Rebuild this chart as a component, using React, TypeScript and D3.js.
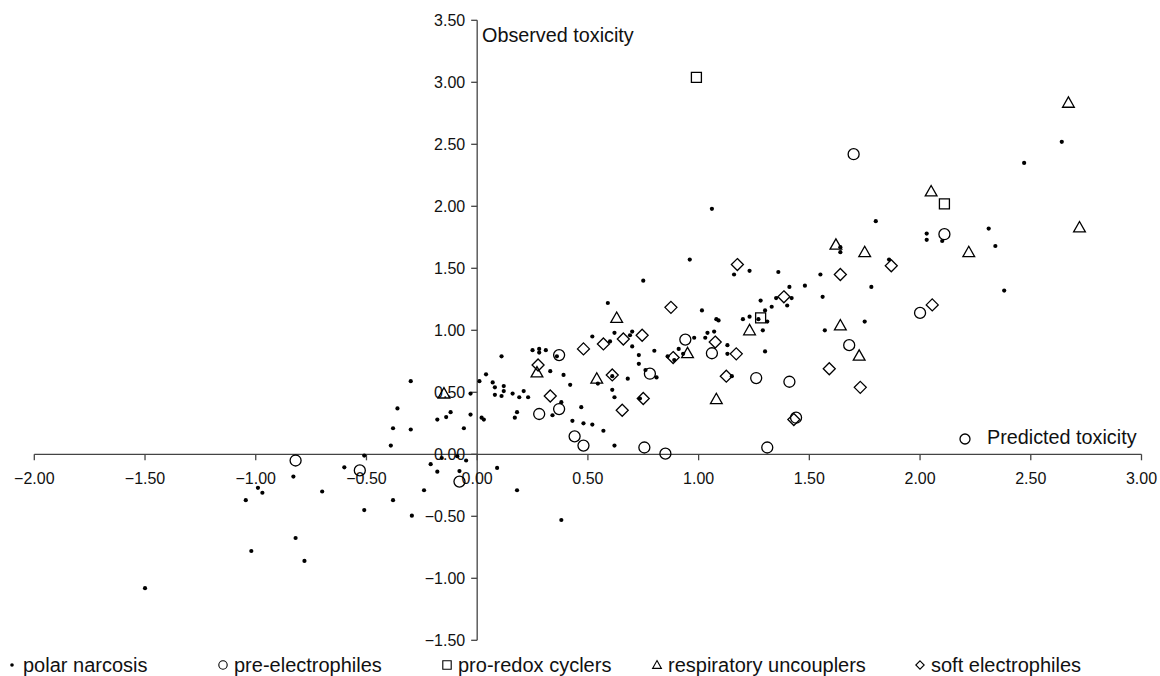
import React from 'react';
import * as d3 from 'd3';

// observed vs predicted toxicity, one list per mechanism class
const polarNarcosis: [number, number][] = [
  [-1.5, -1.08], [-0.39, 0.07], [-0.51, -0.01], [-0.6, -0.105], [-0.83, -0.18],
  [-0.99, -0.27], [-0.97, -0.31], [-1.045, -0.37], [-0.7, -0.3], [-0.38, -0.37],
  [-0.51, -0.45], [-0.82, -0.675], [-1.02, -0.78], [-0.78, -0.86], [-0.3, 0.59],
  [-0.36, 0.37], [-0.38, 0.21], [-0.3, 0.2], [-0.295, -0.495], [-0.24, -0.29],
  [-0.21, -0.08], [-0.18, -0.14], [-0.16, -0.03], [-0.09, -0.015], [-0.05, -0.05],
  [-0.08, -0.135], [-0.18, 0.28], [-0.14, 0.3], [-0.12, 0.34], [-0.06, 0.21],
  [-0.03, 0.32], [-0.03, 0.49], [0.01, 0.59], [0.04, 0.645], [0.11, 0.79],
  [0.07, 0.58], [0.08, 0.54], [0.08, 0.48], [0.12, 0.55], [0.12, 0.51],
  [0.11, 0.47], [0.16, 0.49], [0.21, 0.51], [0.19, 0.46], [0.23, 0.46],
  [0.02, 0.295], [0.03, 0.28], [0.18, 0.34], [0.17, 0.295], [0.09, -0.11],
  [0.18, -0.29], [0.38, -0.53], [0.25, 0.84], [0.28, 0.85], [0.28, 0.82],
  [0.31, 0.84], [0.36, 0.79], [0.33, 0.67], [0.39, 0.64], [0.42, 0.56],
  [0.38, 0.42], [0.34, 0.315], [0.47, 0.38], [0.43, 0.27], [0.48, 0.25],
  [0.52, 0.24], [0.57, 0.19], [0.62, 0.07], [0.52, 0.95], [0.59, 1.22],
  [0.62, 0.98], [0.6, 0.91], [0.7, 0.99], [0.69, 0.96], [0.7, 0.87],
  [0.68, 0.61], [0.61, 0.52], [0.62, 0.46], [0.61, 0.63], [0.545, 0.57],
  [0.73, 0.8], [0.73, 0.73], [0.735, 0.45], [0.96, 1.57], [0.75, 1.4],
  [0.8, 0.835], [0.91, 0.85], [0.86, 0.79], [0.89, 0.76], [0.93, 0.81],
  [0.98, 0.94], [1.03, 0.94], [1.04, 0.98], [1.07, 0.99], [1.015, 1.16],
  [1.08, 1.09], [1.09, 1.08], [1.13, 0.88], [1.13, 0.81], [1.15, 0.63],
  [0.76, 0.68], [0.81, 0.62], [1.16, 1.45], [1.23, 1.48], [1.36, 1.47],
  [1.2, 1.09], [1.23, 1.11], [1.27, 1.09], [1.3, 1.16], [1.31, 1.07],
  [1.28, 1.24], [1.29, 1.0], [1.3, 0.83], [1.33, 1.19], [1.35, 1.26],
  [1.41, 1.35], [1.42, 1.26], [1.4, 1.2], [1.06, 1.98], [1.8, 1.88],
  [1.55, 1.45], [1.48, 1.36], [1.78, 1.35], [1.56, 1.27], [1.64, 1.67],
  [1.64, 1.63], [1.86, 1.57], [1.75, 1.07], [1.57, 1.0], [2.03, 1.78],
  [2.03, 1.73], [2.1, 1.72], [2.31, 1.82], [2.34, 1.68], [2.38, 1.32],
  [2.47, 2.35], [2.64, 2.52],
];

const preElectrophiles: [number, number][] = [
  [-0.82, -0.05], [-0.53, -0.13], [-0.08, -0.22], [0.37, 0.8], [0.28, 0.325],
  [0.37, 0.365], [0.44, 0.145], [0.48, 0.07], [0.755, 0.055], [0.85, 0.005],
  [0.78, 0.65], [0.94, 0.925], [1.06, 0.815], [1.26, 0.615], [1.41, 0.585],
  [1.31, 0.055], [1.44, 0.295], [1.68, 0.88], [2.0, 1.14], [1.7, 2.42],
  [2.11, 1.775],
];

const proRedoxCyclers: [number, number][] = [
  [0.99, 3.04], [2.11, 2.02], [1.28, 1.1],
];

const respiratoryUncouplers: [number, number][] = [
  [-0.15, 0.49], [0.27, 0.66], [0.63, 1.1], [0.54, 0.61], [0.95, 0.815],
  [1.23, 1.0], [1.08, 0.445], [1.62, 1.69], [1.75, 1.63], [1.64, 1.04],
  [1.725, 0.795], [2.05, 2.12], [2.22, 1.63], [2.72, 1.83], [2.67, 2.835],
];

const softElectrophiles: [number, number][] = [
  [0.275, 0.72], [0.33, 0.47], [0.48, 0.85], [0.57, 0.89], [0.66, 0.93],
  [0.61, 0.64], [0.655, 0.355], [0.745, 0.96], [0.75, 0.45], [0.875, 1.185],
  [0.885, 0.78], [1.075, 0.905], [1.17, 0.81], [1.125, 0.63], [1.175, 1.53],
  [1.385, 1.27], [1.43, 0.28], [1.64, 1.45], [1.59, 0.69], [1.73, 0.54],
  [1.87, 1.52], [2.055, 1.205],
];

const xTicks = [-2, -1.5, -1, -0.5, 0, 0.5, 1, 1.5, 2, 2.5, 3];
const yTicks = [-1.5, -1, -0.5, 0, 0.5, 1, 1.5, 2, 2.5, 3, 3.5];

const legendLabels = [
  'polar narcosis',
  'pre-electrophiles',
  'pro-redox cyclers',
  'respiratory uncouplers',
  'soft electrophiles',
];

const font = "Arial, 'Liberation Sans', sans-serif";
const axisColor = '#444';

// marker paths, centred on 0,0
const markers: Record<string, (s: number) => string> = {
  dot: (s) => `M ${-s} 0 a ${s} ${s} 0 1 0 ${2 * s} 0 a ${s} ${s} 0 1 0 ${-2 * s} 0 z`,
  circle: (s) => `M ${-s} 0 a ${s} ${s} 0 1 0 ${2 * s} 0 a ${s} ${s} 0 1 0 ${-2 * s} 0 z`,
  square: (s) => `M ${-s} ${-s} h ${2 * s} v ${2 * s} h ${-2 * s} z`,
  triangle: (s) => `M 0 ${-s * 1.05} L ${s * 1.05} ${s * 0.8} L ${-s * 1.05} ${s * 0.8} z`,
  diamond: (s) => `M 0 ${-s} L ${s} 0 L 0 ${s} L ${-s} 0 z`,
};

function Marker({ kind, x, y, size }: { kind: string; x: number; y: number; size: number }) {
  const isDot = kind === 'dot';
  return (
    <path
      transform={`translate(${x} ${y})`}
      d={markers[kind](size)}
      fill={isDot ? '#000' : 'none'}
      stroke="#000"
      strokeWidth={isDot ? 0 : 1.3}
    />
  );
}

function App() {
  const width = 1160;
  const height = 676;

  const xScale = d3.scaleLinear().domain([-2, 3]).range([34.3, 1141.5]);
  const yScale = d3.scaleLinear().domain([-1.5, 3.5]).range([640.3, 20.3]);
  const fmt = d3.format('.2f');

  const x0 = xScale(0);
  const y0 = yScale(0);

  const series = [
    { kind: 'dot', size: 2.1, data: polarNarcosis },
    { kind: 'circle', size: 5.5, data: preElectrophiles },
    { kind: 'square', size: 5, data: proRedoxCyclers },
    { kind: 'triangle', size: 5.6, data: respiratoryUncouplers },
    { kind: 'diamond', size: 6, data: softElectrophiles },
  ];

  const legendX = [12, 223, 447, 657, 920];

  return (
    <svg
      width={width}
      height={height}
      viewBox={`0 0 ${width} ${height}`}
      style={{ position: 'absolute', left: 0, top: 0, background: '#fff' }}
      fontFamily={font}
    >
      <g className="axes">
        <path d={`M ${xScale(-2)} ${y0} H ${xScale(3)}`} stroke={axisColor} strokeWidth={1.3} />
        <path d={`M ${x0} ${yScale(3.5)} V ${yScale(-1.5)}`} stroke={axisColor} strokeWidth={1.3} />
        {xTicks.map((t) => (
          <g key={t} transform={`translate(${xScale(t)} ${y0})`}>
            <line y2={6} stroke={axisColor} strokeWidth={1.3} />
            <text y={30} textAnchor="middle" fontSize={16} fill="#111">
              {fmt(t)}
            </text>
          </g>
        ))}
        {yTicks.map((t) => (
          <g key={t} transform={`translate(${x0} ${yScale(t)})`}>
            <line x2={-6} stroke={axisColor} strokeWidth={1.3} />
            <text x={-12} dy="0.35em" textAnchor="end" fontSize={16} fill="#111">
              {fmt(t)}
            </text>
          </g>
        ))}
        <text x={482} y={42} fontSize={19.8} fill="#111">
          Observed toxicity
        </text>
        <path
          transform="translate(965 439)"
          d={markers.circle(5)}
          fill="none"
          stroke="#000"
          strokeWidth={1.3}
        />
        <text x={987} y={444} fontSize={19.8} fill="#111">
          Predicted toxicity
        </text>
      </g>

      <g className="marks">
        {series.map((s) =>
          s.data.map(([px, py], i) => (
            <Marker key={`${s.kind}-${i}`} kind={s.kind} x={xScale(px)} y={yScale(py)} size={s.size} />
          ))
        )}
      </g>

      <g className="legend">
        {legendLabels.map((label, i) => (
          <g key={label} transform={`translate(${legendX[i]} 665)`}>
            <path
              d={markers[series[i].kind](i === 0 ? 1.8 : 4.2)}
              fill={i === 0 ? '#000' : 'none'}
              stroke="#000"
              strokeWidth={i === 0 ? 0 : 1.1}
            />
            <text x={11} y={7} fontSize={20} fill="#111">
              {label}
            </text>
          </g>
        ))}
      </g>
    </svg>
  );
}

export default App;
